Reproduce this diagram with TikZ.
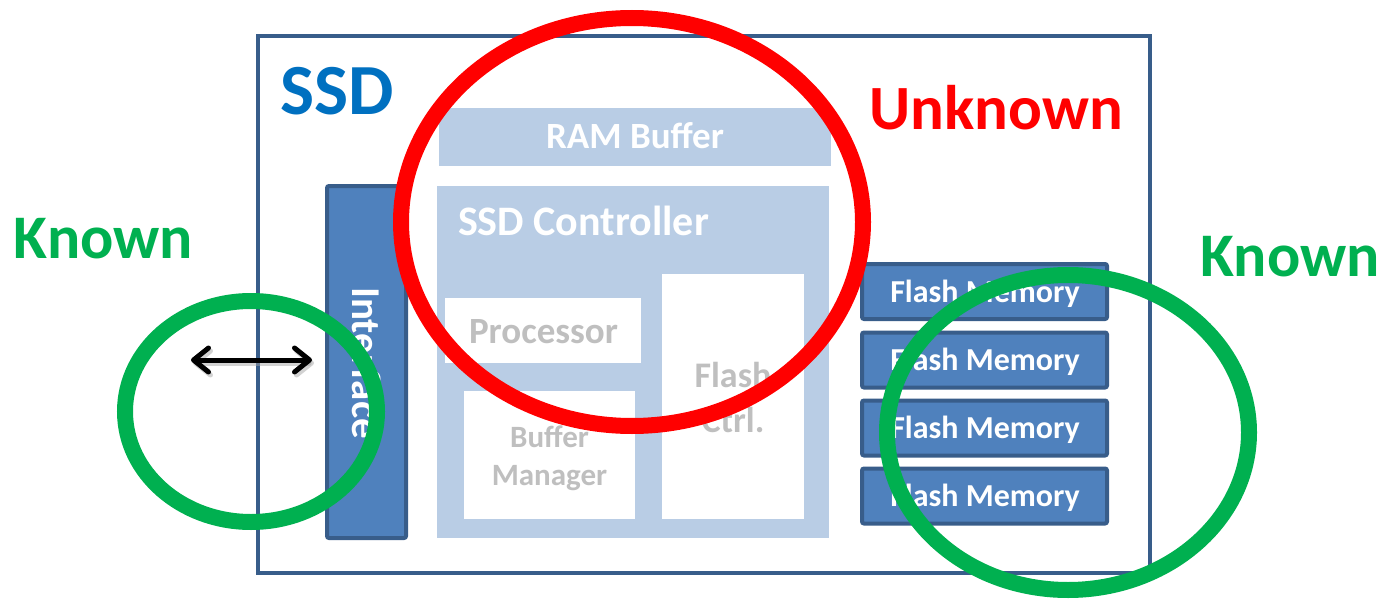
\documentclass[tikz,border=0pt]{standalone}
\usepackage{fontspec}
\setmainfont{Carlito}
\usetikzlibrary{arrows.meta}
\definecolor{boxblue}{HTML}{4F81BD}
\definecolor{boxedge}{HTML}{385D8A}
\definecolor{lightblue}{HTML}{B9CDE5}
\definecolor{softgray}{HTML}{BFBFBF}
\definecolor{ssdblue}{HTML}{0070C0}
\definecolor{knowngreen}{HTML}{00B050}
\definecolor{unkred}{HTML}{FF0000}
\tikzset{
  outerbox/.style={draw=boxedge, line width=4pt, fill=white, minimum width=892pt, minimum height=537pt, inner sep=0pt},
  lightbox/.style={fill=lightblue, inner sep=0pt},
  whitebox/.style={fill=white, inner sep=0pt},
  darkbox/.style={draw=boxedge, fill=boxblue, line width=4pt, rounded corners=2pt, inner sep=0pt},
  flashbox/.style={darkbox, minimum width=245pt, minimum height=55pt},
  fmtext/.style={text=white, font=\bfseries\fontsize{32}{38}\selectfont, anchor=base, inner sep=0pt},
  graytext/.style={text=softgray, anchor=base, inner sep=0pt},
  ring/.style={line width=16pt},
  arr/.style={line width=5pt, line cap=round, {Straight Barb[length=15pt,width=24pt,line cap=round,line join=round]}-{Straight Barb[length=15pt,width=24pt,line cap=round,line join=round]}}
}
\begin{document}
\begin{tikzpicture}[x=1pt,y=-1pt]
\useasboundingbox (0,0) rectangle (1387,599);
% outer SSD box
\node[outerbox] (ssd) at (704,304.5) {};
\node[text=ssdblue, font=\bfseries\fontsize{72}{86}\selectfont, anchor=base, inner sep=0pt] (ssdlabel) at (337,115) {SSD};
% RAM buffer
\node[lightbox, minimum width=392pt, minimum height=58pt] (ram) at (635,137) {};
\node[text=white, font=\bfseries\fontsize{37}{44}\selectfont, anchor=base, inner sep=0pt] (ramlabel) at (635,149) {RAM Buffer};
% controller
\node[lightbox, minimum width=392pt, minimum height=352pt] (ctrl) at (633,362) {};
\node[text=white, font=\bfseries\fontsize{42}{50}\selectfont, anchor=base, inner sep=0pt] (ctrllabel) at (583.5,235) {SSD Controller};
\node[whitebox, minimum width=196pt, minimum height=65pt] (proc) at (543,330.5) {};
\node[graytext, font=\bfseries\fontsize{37}{44}\selectfont] (proclabel) at (543.5,343) {Processor};
\node[whitebox, minimum width=171pt, minimum height=128pt] (bufm) at (549.5,455) {};
\node[graytext, font=\bfseries\fontsize{31}{37}\selectfont] (bufl1) at (549.5,447) {Buffer};
\node[graytext, font=\bfseries\fontsize{31}{37}\selectfont] (bufl2) at (549.5,485) {Manager};
\node[whitebox, minimum width=142pt, minimum height=245pt] (fctrl) at (733,396.5) {};
\node[graytext, font=\bfseries\fontsize{36}{43}\selectfont] (fcl1) at (733,387) {Flash};
\node[graytext, font=\bfseries\fontsize{36}{43}\selectfont] (fcl2) at (733,432) {Ctrl.};
% interface
\node[darkbox, minimum width=79pt, minimum height=352pt] (iface) at (366.5,362) {};
\node[text=white, font=\bfseries\fontsize{41}{49}\selectfont, rotate=-90, inner sep=0pt] (ifacelabel) at (366.5,363) {Interface};
% flash memories
\node[flashbox] (fm1) at (984.5,291.5) {};
\node[flashbox] (fm2) at (984.5,360) {};
\node[flashbox] (fm3) at (984.5,428) {};
\node[flashbox] (fm4) at (984.5,496) {};
\node[fmtext] (fmt1) at (985,302) {Flash Memory};
\node[fmtext] (fmt2) at (985,370.5) {Flash Memory};
\node[fmtext] (fmt3) at (985,438.5) {Flash Memory};
\node[fmtext] (fmt4) at (985,506.5) {Flash Memory};
% host arrow
\coordinate (hostend) at (191,360);
\coordinate (ifend) at (312,360);
\draw[arr, black!35, opacity=0.5] ([shift={(2,3)}]hostend) -- ([shift={(2,3)}]ifend);
\draw[arr] (hostend) -- (ifend);
% rings
\coordinate (redc) at (632,222);
\coordinate (greenl) at (251,411.5);
\coordinate (greenr) at (1068,432.5);
\draw[ring, unkred] (redc) ellipse [x radius=231pt, y radius=204pt];
\draw[ring, knowngreen] (greenl) ellipse [x radius=126pt, y radius=110.5pt];
\draw[ring, knowngreen] (greenr) ellipse [x radius=181pt, y radius=157.5pt];
% labels
\node[text=unkred, font=\bfseries\fontsize{63}{75}\selectfont, anchor=base, inner sep=0pt] (unk) at (996,130) {Unknown};
\node[text=knowngreen, font=\bfseries\fontsize{62}{74}\selectfont, anchor=base, inner sep=0pt] (knl) at (103.5,258) {Known};
\node[text=knowngreen, font=\bfseries\fontsize{62}{74}\selectfont, anchor=base, inner sep=0pt] (knr) at (1290,276) {Known};
\end{tikzpicture}
\end{document}
